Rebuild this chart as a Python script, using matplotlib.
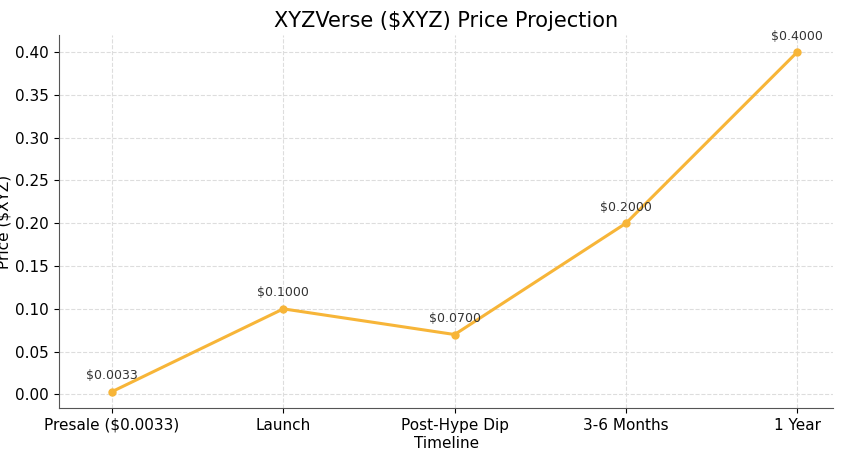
import matplotlib
matplotlib.use("Agg")
import matplotlib.pyplot as plt

categories = ["Presale ($0.0033)", "Launch", "Post-Hype Dip", "3-6 Months", "1 Year"]
prices = [0.0033, 0.10, 0.07, 0.20, 0.40]
labels = ["$0.0033", "$0.1000", "$0.0700", "$0.2000", "$0.4000"]

fig = plt.figure(figsize=(8.67, 4.54), dpi=100)
ax = fig.add_axes([0.068, 0.101, 0.893, 0.822])
x = list(range(len(categories)))
ax.plot(x, prices, color="#F7B538", lw=2.2, marker="o", ms=5)
for xi, p, t in zip(x, prices, labels):
    ax.annotate(t, (xi, p), xytext=(0, 9), textcoords="offset points",
                ha="center", fontsize=9, color="#333333")
ax.set_xticks(x)
ax.set_xticklabels(categories, fontsize=11)
ax.set_yticks([i * 0.05 for i in range(9)])
ax.set_yticklabels([f"{i*0.05:.2f}" for i in range(9)], fontsize=11)
ax.set_xlim(-0.31, 4.21)
ax.set_ylim(-0.016, 0.42)
ax.grid(True, ls="--", color="#dddddd", lw=0.8)
for s in ["top", "right"]:
    ax.spines[s].set_visible(False)
for s in ["left", "bottom"]:
    ax.spines[s].set_color("#555555")
ax.set_xlabel("Timeline", fontsize=11, labelpad=2)
ax.set_ylabel("Price ($XYZ)", fontsize=11, labelpad=3)
ax.set_title("XYZVerse ($XYZ) Price Projection", fontsize=15, pad=6)
fig.savefig("out.png", dpi=100)
